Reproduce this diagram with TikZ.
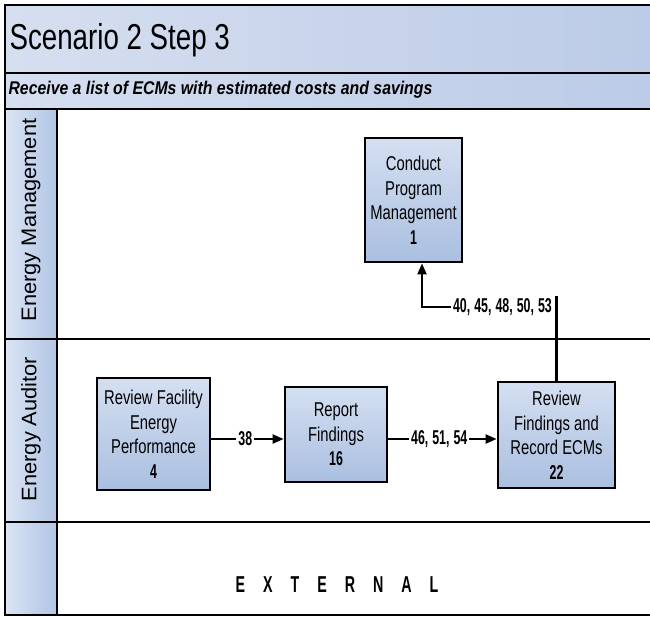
\documentclass[tikz,border=0pt]{standalone}
\usepackage{fontspec}
\setmainfont{Liberation Sans}
\newfontfamily\boxfont[FakeStretch=0.74]{Liberation Sans}
\newfontfamily\titlefont[FakeStretch=0.77]{Liberation Sans}
\newfontfamily\numfont[FakeStretch=0.62]{Liberation Sans}
\newfontfamily\lanefont[FakeStretch=1.04]{Liberation Sans}
\newfontfamily\subfont[FakeStretch=0.86]{Liberation Sans}
\newcommand\boxnum{\numfont\bfseries\fontsize{20}{20}\selectfont}
\newcommand\cs{,\hspace{4pt}}
\usetikzlibrary{arrows.meta,calc}
\definecolor{boxtop}{RGB}{212,223,241}
\definecolor{boxbot}{RGB}{170,191,224}
\definecolor{barleft}{RGB}{214,223,240}
\definecolor{barright}{RGB}{188,203,231}
\definecolor{colleft}{RGB}{218,228,244}
\definecolor{colright}{RGB}{178,197,229}
\begin{document}
\begin{tikzpicture}[x=1pt,y=-1pt,
  procbox/.style={draw=black, line width=2.8pt, top color=boxtop, bottom color=boxbot,
    font=\boxfont\fontsize{20}{24.5}\selectfont, align=center, inner sep=0pt},
  flowlbl/.style={fill=white, font=\numfont\bfseries\fontsize{20}{20}\selectfont, inner sep=2pt},
  arr/.style={line width=2.1pt, -{Triangle[length=11pt,width=9pt]}},
  frameline/.style={line width=2.6pt, black}]
\useasboundingbox (0,0) rectangle (650,616);
% title and subtitle bars
\shade[left color=barleft, right color=barright] (5,5) rectangle (650,73);
\shade[left color=barleft, right color=barright] (5,73) rectangle (650,109);
% lane header column
\shade[left color=colleft, right color=colright] (5,109) rectangle (57,615);
% frame lines
\draw[frameline] (4,5) -- (650,5);
\draw[frameline] (5,4) -- (5,615);
\draw[frameline] (4,615) -- (650,615);
\draw[frameline] (5,73) -- (650,73);
\draw[frameline] (5,109) -- (650,109);
\draw[frameline] (5,339) -- (650,339);
\draw[frameline] (5,522) -- (650,522);
\draw[frameline] (57,109) -- (57,615);
% texts
\node[anchor=west, font=\titlefont\fontsize{36}{36}\selectfont] (title) at (6,40) {Scenario 2 Step 3};
\node[anchor=west, font=\subfont\bfseries\itshape\fontsize{18.4}{18.4}\selectfont] (sub) at (5,90) {Receive a list of ECMs with estimated costs and savings};
\node[rotate=90, font=\lanefont\fontsize{21}{21}\selectfont] (lem) at (31,220) {Energy Management};
\node[rotate=90, font=\lanefont\fontsize{21}{21}\selectfont] (lea) at (31,429) {Energy Auditor};
\node[font=\numfont\bfseries\fontsize{23}{23}\selectfont] (ext) at (337,585)
  {E\hspace{18pt}X\hspace{18pt}T\hspace{18pt}E\hspace{18pt}R\hspace{18pt}N\hspace{18pt}A\hspace{18pt}L};
% process boxes
\node[procbox, minimum width=97pt, minimum height=124pt] (cpm) at (413.5,200)
  {Conduct\\Program\\Management\\{\boxnum 1}};
\node[procbox, minimum width=113pt, minimum height=112pt] (rfe) at (153.5,434)
  {Review Facility\\Energy\\Performance\\{\boxnum 4}};
\node[procbox, minimum width=102pt, minimum height=95pt] (rpf) at (336,434.5)
  {Report\\Findings\\{\boxnum 16}};
\node[procbox, minimum width=117pt, minimum height=106pt] (rvf) at (556.5,435)
  {Review\\Findings and\\Record ECMs\\{\boxnum 22}};
% connectors
\draw[arr] ([yshift=-5pt]rfe.east) -- ([yshift=-5pt]rfe.east -| rpf.west)
  node[flowlbl, pos=0.47] (l38) {38};
\draw[arr] ([yshift=-4.5pt]rpf.east) -- ([yshift=-4.5pt]rpf.east -| rvf.west)
  node[flowlbl, pos=0.47] (l46) {46\cs 51\cs 54};
\node[flowlbl, anchor=east] (l40) at (554,307) {40\cs 45\cs 48\cs 50\cs 53};
\draw[line width=2.1pt] (rvf.north) -- (rvf.north |- l40.north);
\draw[arr] (l40.west) -| ([xshift=8.5pt]cpm.south);
\end{tikzpicture}
\end{document}
